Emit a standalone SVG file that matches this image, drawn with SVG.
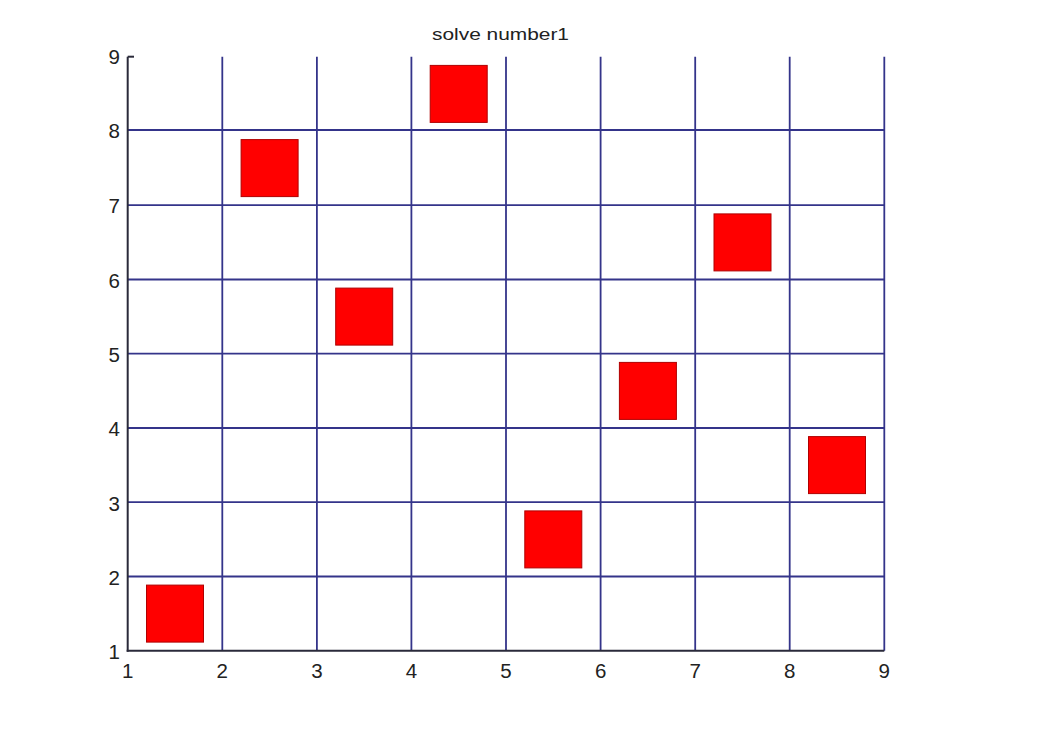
<svg xmlns="http://www.w3.org/2000/svg" width="1049" height="750" viewBox="0 0 1049 750">
<style>
.grid line{stroke:#34348a;stroke-width:1.8}
.axis line{stroke:#2a2a3a;stroke-width:2}
.lbl{font-family:"Liberation Sans",Arial,sans-serif;font-size:20.5px;fill:#222}
.title{font-family:"Liberation Sans",Arial,sans-serif;font-size:17px;fill:#222}
.q{fill:#ff0000;stroke:#b00000;stroke-width:1}
</style>
<rect width="1049" height="750" fill="#ffffff"/>
<text class="title" x="432" y="40" textLength="137" lengthAdjust="spacingAndGlyphs">solve number1</text>
<g id="grid" class="grid">
<line x1="222.3" y1="56.7" x2="222.3" y2="650.7"/>
<line x1="316.9" y1="56.7" x2="316.9" y2="650.7"/>
<line x1="411.4" y1="56.7" x2="411.4" y2="650.7"/>
<line x1="506.0" y1="56.7" x2="506.0" y2="650.7"/>
<line x1="600.6" y1="56.7" x2="600.6" y2="650.7"/>
<line x1="695.2" y1="56.7" x2="695.2" y2="650.7"/>
<line x1="789.7" y1="56.7" x2="789.7" y2="650.7"/>
<line x1="884.3" y1="56.7" x2="884.3" y2="650.7"/>
<line x1="127.7" y1="576.5" x2="884.3" y2="576.5"/>
<line x1="127.7" y1="502.2" x2="884.3" y2="502.2"/>
<line x1="127.7" y1="428.0" x2="884.3" y2="428.0"/>
<line x1="127.7" y1="353.7" x2="884.3" y2="353.7"/>
<line x1="127.7" y1="279.5" x2="884.3" y2="279.5"/>
<line x1="127.7" y1="205.2" x2="884.3" y2="205.2"/>
<line x1="127.7" y1="130.0" x2="884.3" y2="130.0"/>
</g>
<g id="axes" class="axis">
<line x1="127.7" y1="56.7" x2="127.7" y2="651.7"/>
<line x1="126.7" y1="650.7" x2="884.3" y2="650.7"/>
<line x1="127.7" y1="56.7" x2="134" y2="56.7"/>
</g>
<g id="ylabels" class="lbl" text-anchor="end">
<text x="120" y="659">1</text>
<text x="120" y="585">2</text>
<text x="120" y="511">3</text>
<text x="120" y="436">4</text>
<text x="120" y="362">5</text>
<text x="120" y="288">6</text>
<text x="120" y="213">7</text>
<text x="120" y="138">8</text>
<text x="120" y="64">9</text>
</g>
<g id="xlabels" class="lbl" text-anchor="middle">
<text x="127.7" y="678">1</text>
<text x="222.3" y="678">2</text>
<text x="316.9" y="678">3</text>
<text x="411.4" y="678">4</text>
<text x="506.0" y="678">5</text>
<text x="600.6" y="678">6</text>
<text x="695.2" y="678">7</text>
<text x="789.7" y="678">8</text>
<text x="884.3" y="678">9</text>
</g>
<g id="q1"><rect class="q" x="146.5" y="585.1" width="57" height="57"/></g>
<g id="q2"><rect class="q" x="241.1" y="139.6" width="57" height="57"/></g>
<g id="q3"><rect class="q" x="335.7" y="288.1" width="57" height="57"/></g>
<g id="q4"><rect class="q" x="430.2" y="65.4" width="57" height="57"/></g>
<g id="q5"><rect class="q" x="524.8" y="510.9" width="57" height="57"/></g>
<g id="q6"><rect class="q" x="619.4" y="362.4" width="57" height="57"/></g>
<g id="q7"><rect class="q" x="714.0" y="213.9" width="57" height="57"/></g>
<g id="q8"><rect class="q" x="808.5" y="436.6" width="57" height="57"/></g>
</svg>
